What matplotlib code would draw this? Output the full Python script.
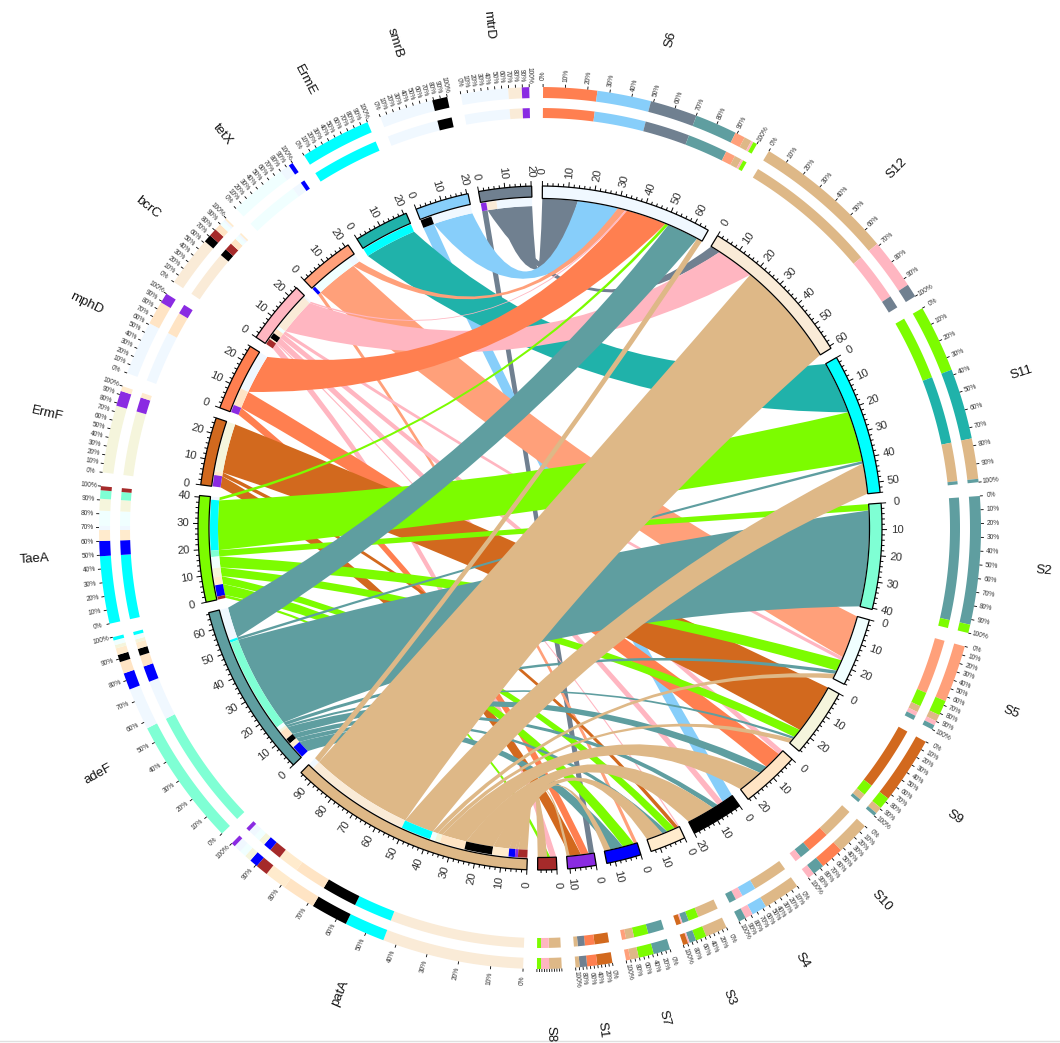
import numpy as np
import matplotlib
matplotlib.use('Agg')
import matplotlib.pyplot as plt
from matplotlib.path import Path
from matplotlib.patches import PathPatch

plt.rcParams['font.family'] = ['Liberation Sans', 'DejaVu Sans']

# sectors in clockwise order from the top
samples = ['S6', 'S12', 'S11', 'S2', 'S5', 'S9', 'S10', 'S4', 'S3', 'S7', 'S1', 'S8']
genes = ['patA', 'adeF', 'TaeA', 'ErmF', 'mphD', 'bcrC', 'tetX', 'ErmE', 'smrB', 'mtrD']

sample_colors = ['aliceblue', 'antiquewhite', 'aqua', 'aquamarine', 'azure', 'beige',
                 'bisque', 'black', 'blanchedalmond', 'blue', 'blueviolet', 'brown']
gene_colors = ['burlywood', 'cadetblue', 'lawngreen', 'chocolate', 'coral', 'lightpink',
               'lightsalmon', 'lightseagreen', 'lightskyblue', 'slategrey']

# abundance per gene
patA = {'S12': 42, 'S11': 12, 'S4': 11, 'S10': 10, 'S3': 6.5, 'S8': 3.7, 'S7': 2.5, 'S9': 2, 'S5': 2, 'S6': 2.2, 'S1': 1.2}
adeF = {'S2': 38, 'S6': 12.5, 'S7': 5, 'S10': 3.5, 'S4': 2.2, 'S3': 2, 'S9': 1, 'S5': 1.4, 'S11': 1}
TaeA = {'S11': 20, 'S7': 4.5, 'S3': 3.2, 'S6': 1.2, 'S5': 4.5, 'S9': 3.5, 'S2': 2.5, 'S8': 1.2}
ErmF = {'S9': 20, 'S1': 4.5, 'S3': 1.5}
mphD = {'S6': 16, 'S10': 7, 'S1': 3}
bcrC = {'S12': 15, 'S4': 2.3, 'S8': 2.4, 'S10': 2, 'S5': 1.3, 'S6': 0.7, 'S3': 0.5}
tetX = {'S5': 17, 'S6': 3, 'S7': 1.3}
ErmE = {'S11': 21}
smrB = {'S6': 16, 'S4': 4.5}
mtrD = {'S6': 14, 'S12': 4, 'S1': 2.2}
gene_rows = [patA, adeF, TaeA, ErmF, mphD, bcrC, tetX, ErmE, smrB, mtrD]

# order of the segments in the percent rings of the samples
ring_order = {
    'S6': ['mphD', 'smrB', 'mtrD', 'adeF', 'tetX', 'patA', 'bcrC', 'TaeA'],
    'S12': ['patA', 'bcrC', 'mtrD'],
    'S11': ['TaeA', 'ErmE', 'patA', 'adeF'],
    'S2': ['adeF', 'TaeA'],
    'S5': ['tetX', 'TaeA', 'patA', 'bcrC', 'adeF'],
    'S9': ['ErmF', 'TaeA', 'patA', 'adeF'],
    'S10': ['patA', 'mphD', 'adeF', 'bcrC'],
    'S4': ['patA', 'smrB', 'bcrC', 'adeF'],
    'S3': ['patA', 'TaeA', 'adeF', 'bcrC', 'ErmF'],
    'S7': ['adeF', 'TaeA', 'patA', 'tetX'],
    'S1': ['ErmF', 'mphD', 'mtrD', 'patA'],
    'S8': ['patA', 'bcrC', 'TaeA'],
}
pct_label_step = {'S3': 20, 'S7': 20, 'S1': 20, 'S8': 0}

CX, CY = 540, 528
W, H = 1060, 1043
GAP = 1.8
START = 0.4

names = samples + genes
colors = dict(zip(names, sample_colors + gene_colors))
flows = {}
for g, row in zip(genes, gene_rows):
    for s, v in row.items():
        flows[(g, s)] = v
        flows[(s, g)] = v
totals = {n: sum(v for k, v in flows.items() if k[0] == n) for n in names}
deg_per_unit = (360 - GAP * len(names)) / sum(totals.values())

starts = {}
a = START
for n in names:
    starts[n] = a
    a += totals[n] * deg_per_unit + GAP


def pt(r, deg):
    t = np.radians(deg)
    return np.array([r * np.sin(t), r * np.cos(t)])


def arc(r, a0, a1):
    n = max(int(abs(a1 - a0) * 2), 2)
    return [pt(r, d) for d in np.linspace(a0, a1, n)]


def band(ax, r0, r1, a0, a1, color, edge='none', lw=0, z=3):
    verts = arc(r1, a0, a1) + arc(r0, a1, a0)
    ax.fill([v[0] for v in verts], [v[1] for v in verts], facecolor=color,
            edgecolor=edge, linewidth=lw, zorder=z)


def radial_text(ax, r, deg, s, size, color='#222222'):
    d = deg % 360
    rot = 90 - d if d < 180 else 270 - d
    x, y = pt(r, deg)
    ax.text(x, y, s, fontsize=size, color=color, rotation=rot, ha='center', va='center',
            rotation_mode='anchor', zorder=6)


fig = plt.figure(figsize=(W / 100, H / 100), dpi=100)
ax = fig.add_axes([0, 0, 1, 1])
ax.set_xlim(-CX, W - CX)
ax.set_ylim(CY - H, CY)
ax.axis('off')

# where each flow sits inside its sector: nearest partner going counter-clockwise first
slots = {}
for i, n in enumerate(names):
    partners = [m for m in names if (n, m) in flows]
    partners.sort(key=lambda m: (i - names.index(m)) % len(names))
    pos = starts[n]
    for m in partners:
        w = flows[(n, m)] * deg_per_unit
        slots[(n, m)] = (pos, pos + w)
        pos += w

R_SAMPLE = 329
R_GENE = 322
BEND = 0.6

# ribbons, genes in reverse so that patA ends on top
for g in reversed(genes):
    row = gene_rows[genes.index(g)]
    for s in row:
        a0, a1 = slots[(s, g)]
        b0, b1 = slots[(g, s)]
        verts, codes = [], []
        side_a = arc(R_SAMPLE, a0, a1)
        side_b = arc(R_GENE, b0, b1)
        verts += side_a
        codes += [Path.MOVETO] + [Path.LINETO] * (len(side_a) - 1)
        verts += [BEND * (side_a[-1] + side_b[0]) / 2, side_b[0]]
        codes += [Path.CURVE3, Path.CURVE3]
        verts += side_b[1:]
        codes += [Path.LINETO] * (len(side_b) - 1)
        verts += [BEND * (side_b[-1] + side_a[0]) / 2, side_a[0]]
        codes += [Path.CURVE3, Path.CURVE3]
        ax.add_patch(PathPatch(Path(np.array(verts), codes), facecolor=colors[g],
                               edgecolor='none', zorder=2))

# inner sector bands, axis ticks and labels
for n in names:
    a0 = starts[n]
    a1 = a0 + totals[n] * deg_per_unit
    is_gene = n in genes
    r_in = 331 if is_gene else 329.5
    band(ax, r_in, 342, a0, a1, colors[n], edge='black', lw=0.9, z=4)
    if is_gene:
        partners = [m for m in names if (n, m) in flows]
        for m in partners:
            p0, p1 = slots[(n, m)]
            band(ax, R_GENE, 330, p0, p1, colors[m], z=3)
    for u in np.arange(0, totals[n] + 0.01, 2):
        d = a0 + u * deg_per_unit
        major = int(u) % 10 == 0
        p, q = pt(342, d), pt(347 if major else 345, d)
        ax.plot([p[0], q[0]], [p[1], q[1]], color='black', lw=0.7, zorder=5, solid_capstyle='butt')
        if major:
            radial_text(ax, 357, d, str(int(u)), 8.2, '#333333')

    # the two percent rings
    order = ring_order[n] if n in ring_order else list(gene_rows[genes.index(n)].keys())
    pos = a0
    for m in order:
        w = flows[(n, m)] * deg_per_unit
        band(ax, 430, 441, pos, pos + w, colors[m], z=3)
        band(ax, 410, 420, pos, pos + w, colors[m], z=3)
        pos += w
    step = pct_label_step.get(n, 10)
    for pct in range(0, 101, 10):
        d = a0 + (a1 - a0) * pct / 100
        p, q = pt(441, d), pt(444, d)
        ax.plot([p[0], q[0]], [p[1], q[1]], color='black', lw=0.6, zorder=5, solid_capstyle='butt')
        if step and pct % step == 0:
            radial_text(ax, 453, d, f'{pct}%', 4.8, '#333333')

    radial_text(ax, 506, (a0 + a1) / 2, n, 9.5, '#111111')

# thin rule along the bottom edge
ax.plot([-CX, W - CX], [CY - 1041, CY - 1041], color='#e0e0e0', lw=1, zorder=1)

fig.savefig('out.png', dpi=100)
